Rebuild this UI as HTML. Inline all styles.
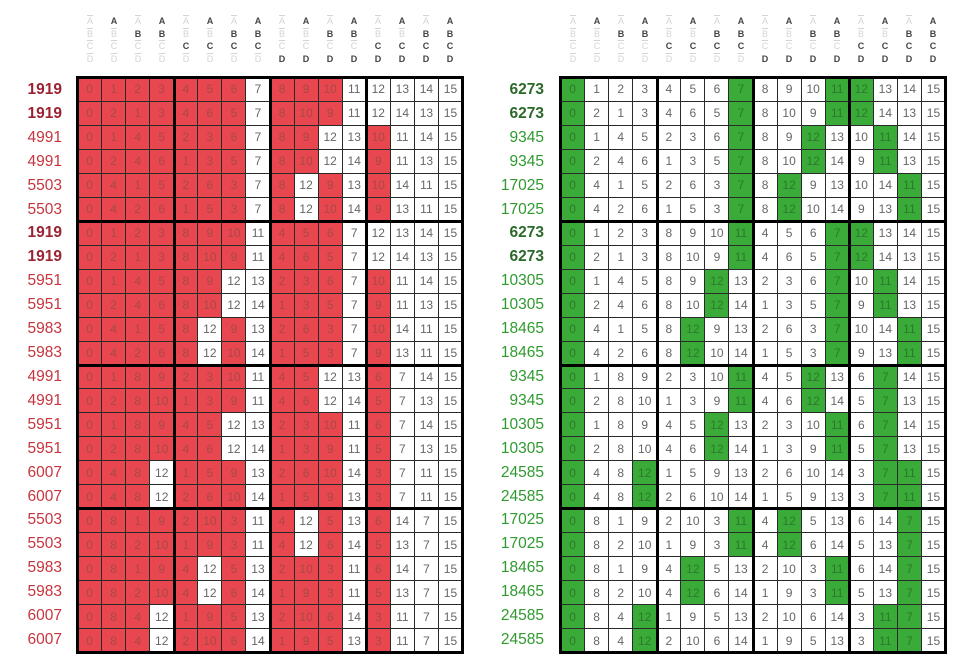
<!DOCTYPE html>
<html><head><meta charset="utf-8"><style>
body{margin:0;width:960px;height:669px;background:#fff;font-family:"Liberation Sans",sans-serif;position:relative;overflow:hidden}
.g{position:absolute;top:78px;width:384px;height:574px;display:grid;grid-template-columns:repeat(16,1fr);grid-template-rows:repeat(24,1fr);gap:1px;background:#2a2a2a}
.g b,.g i{font-weight:normal;font-style:normal;font-size:12px;display:flex;align-items:center;justify-content:center;background:#fff;color:#666}
.L b{background:#e8474f;color:#a84848}
.R b{background:#3aaa38;color:#2a7a2a}
.v,.h{position:absolute;background:#000}
.v{top:0;bottom:0;width:3px}
.h{left:0;right:0;height:3px}
.o{position:absolute;left:-2px;top:-2px;right:-2px;bottom:-2px;border:3px solid #000;pointer-events:none}
.lab{position:absolute;top:78px;width:80px;height:574px;display:grid;grid-template-rows:repeat(24,1fr);text-align:right;font-size:15.5px}
.lab div{display:flex;align-items:center;justify-content:flex-end}
.Ll div{color:#c8343e}.Ll .k{color:#9b2233;font-weight:bold}
.Rl div{color:#2e9a2e}.Rl .k{color:#2a6a2a;font-weight:bold}
.hd{position:absolute;top:15px;width:384px;display:grid;grid-template-columns:repeat(16,1fr);font-size:9px;text-align:center;line-height:12.5px}
.hd div span{display:block}
.hd .p{color:#444;font-weight:bold}
.hd .a{color:#d4d4d4;text-decoration:overline}
</style></head><body>

<div class="hd" style="left:78px">
<div><span class=a>A</span><span class=a>B</span><span class=a>C</span><span class=a>D</span></div>
<div><span class=p>A</span><span class=a>B</span><span class=a>C</span><span class=a>D</span></div>
<div><span class=a>A</span><span class=p>B</span><span class=a>C</span><span class=a>D</span></div>
<div><span class=p>A</span><span class=p>B</span><span class=a>C</span><span class=a>D</span></div>
<div><span class=a>A</span><span class=a>B</span><span class=p>C</span><span class=a>D</span></div>
<div><span class=p>A</span><span class=a>B</span><span class=p>C</span><span class=a>D</span></div>
<div><span class=a>A</span><span class=p>B</span><span class=p>C</span><span class=a>D</span></div>
<div><span class=p>A</span><span class=p>B</span><span class=p>C</span><span class=a>D</span></div>
<div><span class=a>A</span><span class=a>B</span><span class=a>C</span><span class=p>D</span></div>
<div><span class=p>A</span><span class=a>B</span><span class=a>C</span><span class=p>D</span></div>
<div><span class=a>A</span><span class=p>B</span><span class=a>C</span><span class=p>D</span></div>
<div><span class=p>A</span><span class=p>B</span><span class=a>C</span><span class=p>D</span></div>
<div><span class=a>A</span><span class=a>B</span><span class=p>C</span><span class=p>D</span></div>
<div><span class=p>A</span><span class=a>B</span><span class=p>C</span><span class=p>D</span></div>
<div><span class=a>A</span><span class=p>B</span><span class=p>C</span><span class=p>D</span></div>
<div><span class=p>A</span><span class=p>B</span><span class=p>C</span><span class=p>D</span></div>
</div>
<div class="hd" style="left:561px">
<div><span class=a>A</span><span class=a>B</span><span class=a>C</span><span class=a>D</span></div>
<div><span class=p>A</span><span class=a>B</span><span class=a>C</span><span class=a>D</span></div>
<div><span class=a>A</span><span class=p>B</span><span class=a>C</span><span class=a>D</span></div>
<div><span class=p>A</span><span class=p>B</span><span class=a>C</span><span class=a>D</span></div>
<div><span class=a>A</span><span class=a>B</span><span class=p>C</span><span class=a>D</span></div>
<div><span class=p>A</span><span class=a>B</span><span class=p>C</span><span class=a>D</span></div>
<div><span class=a>A</span><span class=p>B</span><span class=p>C</span><span class=a>D</span></div>
<div><span class=p>A</span><span class=p>B</span><span class=p>C</span><span class=a>D</span></div>
<div><span class=a>A</span><span class=a>B</span><span class=a>C</span><span class=p>D</span></div>
<div><span class=p>A</span><span class=a>B</span><span class=a>C</span><span class=p>D</span></div>
<div><span class=a>A</span><span class=p>B</span><span class=a>C</span><span class=p>D</span></div>
<div><span class=p>A</span><span class=p>B</span><span class=a>C</span><span class=p>D</span></div>
<div><span class=a>A</span><span class=a>B</span><span class=p>C</span><span class=p>D</span></div>
<div><span class=p>A</span><span class=a>B</span><span class=p>C</span><span class=p>D</span></div>
<div><span class=a>A</span><span class=p>B</span><span class=p>C</span><span class=p>D</span></div>
<div><span class=p>A</span><span class=p>B</span><span class=p>C</span><span class=p>D</span></div>
</div>

<div class="lab Ll" style="left:-18px">
<div class=k>1919</div><div class=k>1919</div><div>4991</div><div>4991</div><div>5503</div><div>5503</div>
<div class=k>1919</div><div class=k>1919</div><div>5951</div><div>5951</div><div>5983</div><div>5983</div>
<div>4991</div><div>4991</div><div>5951</div><div>5951</div><div>6007</div><div>6007</div>
<div>5503</div><div>5503</div><div>5983</div><div>5983</div><div>6007</div><div>6007</div>
</div>
<div class="lab Rl" style="left:464px">
<div class=k>6273</div><div class=k>6273</div><div>9345</div><div>9345</div><div>17025</div><div>17025</div>
<div class=k>6273</div><div class=k>6273</div><div>10305</div><div>10305</div><div>18465</div><div>18465</div>
<div>9345</div><div>9345</div><div>10305</div><div>10305</div><div>24585</div><div>24585</div>
<div>17025</div><div>17025</div><div>18465</div><div>18465</div><div>24585</div><div>24585</div>
</div>

<div class="g L" style="left:78px">
<b>0</b><b>1</b><b>2</b><b>3</b><b>4</b><b>5</b><b>6</b><i>7</i><b>8</b><b>9</b><b>10</b><i>11</i><i>12</i><i>13</i><i>14</i><i>15</i>
<b>0</b><b>2</b><b>1</b><b>3</b><b>4</b><b>6</b><b>5</b><i>7</i><b>8</b><b>10</b><b>9</b><i>11</i><i>12</i><i>14</i><i>13</i><i>15</i>
<b>0</b><b>1</b><b>4</b><b>5</b><b>2</b><b>3</b><b>6</b><i>7</i><b>8</b><b>9</b><i>12</i><i>13</i><b>10</b><i>11</i><i>14</i><i>15</i>
<b>0</b><b>2</b><b>4</b><b>6</b><b>1</b><b>3</b><b>5</b><i>7</i><b>8</b><b>10</b><i>12</i><i>14</i><b>9</b><i>11</i><i>13</i><i>15</i>
<b>0</b><b>4</b><b>1</b><b>5</b><b>2</b><b>6</b><b>3</b><i>7</i><b>8</b><i>12</i><b>9</b><i>13</i><b>10</b><i>14</i><i>11</i><i>15</i>
<b>0</b><b>4</b><b>2</b><b>6</b><b>1</b><b>5</b><b>3</b><i>7</i><b>8</b><i>12</i><b>10</b><i>14</i><b>9</b><i>13</i><i>11</i><i>15</i>
<b>0</b><b>1</b><b>2</b><b>3</b><b>8</b><b>9</b><b>10</b><i>11</i><b>4</b><b>5</b><b>6</b><i>7</i><i>12</i><i>13</i><i>14</i><i>15</i>
<b>0</b><b>2</b><b>1</b><b>3</b><b>8</b><b>10</b><b>9</b><i>11</i><b>4</b><b>6</b><b>5</b><i>7</i><i>12</i><i>14</i><i>13</i><i>15</i>
<b>0</b><b>1</b><b>4</b><b>5</b><b>8</b><b>9</b><i>12</i><i>13</i><b>2</b><b>3</b><b>6</b><i>7</i><b>10</b><i>11</i><i>14</i><i>15</i>
<b>0</b><b>2</b><b>4</b><b>6</b><b>8</b><b>10</b><i>12</i><i>14</i><b>1</b><b>3</b><b>5</b><i>7</i><b>9</b><i>11</i><i>13</i><i>15</i>
<b>0</b><b>4</b><b>1</b><b>5</b><b>8</b><i>12</i><b>9</b><i>13</i><b>2</b><b>6</b><b>3</b><i>7</i><b>10</b><i>14</i><i>11</i><i>15</i>
<b>0</b><b>4</b><b>2</b><b>6</b><b>8</b><i>12</i><b>10</b><i>14</i><b>1</b><b>5</b><b>3</b><i>7</i><b>9</b><i>13</i><i>11</i><i>15</i>
<b>0</b><b>1</b><b>8</b><b>9</b><b>2</b><b>3</b><b>10</b><i>11</i><b>4</b><b>5</b><i>12</i><i>13</i><b>6</b><i>7</i><i>14</i><i>15</i>
<b>0</b><b>2</b><b>8</b><b>10</b><b>1</b><b>3</b><b>9</b><i>11</i><b>4</b><b>6</b><i>12</i><i>14</i><b>5</b><i>7</i><i>13</i><i>15</i>
<b>0</b><b>1</b><b>8</b><b>9</b><b>4</b><b>5</b><i>12</i><i>13</i><b>2</b><b>3</b><b>10</b><i>11</i><b>6</b><i>7</i><i>14</i><i>15</i>
<b>0</b><b>2</b><b>8</b><b>10</b><b>4</b><b>6</b><i>12</i><i>14</i><b>1</b><b>3</b><b>9</b><i>11</i><b>5</b><i>7</i><i>13</i><i>15</i>
<b>0</b><b>4</b><b>8</b><i>12</i><b>1</b><b>5</b><b>9</b><i>13</i><b>2</b><b>6</b><b>10</b><i>14</i><b>3</b><i>7</i><i>11</i><i>15</i>
<b>0</b><b>4</b><b>8</b><i>12</i><b>2</b><b>6</b><b>10</b><i>14</i><b>1</b><b>5</b><b>9</b><i>13</i><b>3</b><i>7</i><i>11</i><i>15</i>
<b>0</b><b>8</b><b>1</b><b>9</b><b>2</b><b>10</b><b>3</b><i>11</i><b>4</b><i>12</i><b>5</b><i>13</i><b>6</b><i>14</i><i>7</i><i>15</i>
<b>0</b><b>8</b><b>2</b><b>10</b><b>1</b><b>9</b><b>3</b><i>11</i><b>4</b><i>12</i><b>6</b><i>14</i><b>5</b><i>13</i><i>7</i><i>15</i>
<b>0</b><b>8</b><b>1</b><b>9</b><b>4</b><i>12</i><b>5</b><i>13</i><b>2</b><b>10</b><b>3</b><i>11</i><b>6</b><i>14</i><i>7</i><i>15</i>
<b>0</b><b>8</b><b>2</b><b>10</b><b>4</b><i>12</i><b>6</b><i>14</i><b>1</b><b>9</b><b>3</b><i>11</i><b>5</b><i>13</i><i>7</i><i>15</i>
<b>0</b><b>8</b><b>4</b><i>12</i><b>1</b><b>9</b><b>5</b><i>13</i><b>2</b><b>10</b><b>6</b><i>14</i><b>3</b><i>11</i><i>7</i><i>15</i>
<b>0</b><b>8</b><b>4</b><i>12</i><b>2</b><b>10</b><b>6</b><i>14</i><b>1</b><b>9</b><b>5</b><i>13</i><b>3</b><i>11</i><i>7</i><i>15</i>
<div class=v style="left:94.5px"></div><div class=v style="left:190.5px"></div><div class=v style="left:286.5px"></div>
<div class=h style="top:142px"></div><div class=h style="top:285.5px"></div><div class=h style="top:429px"></div>
<div class=o></div>
</div>

<div class="g R" style="left:561px">
<b>0</b><i>1</i><i>2</i><i>3</i><i>4</i><i>5</i><i>6</i><b>7</b><i>8</i><i>9</i><i>10</i><b>11</b><b>12</b><i>13</i><i>14</i><i>15</i>
<b>0</b><i>2</i><i>1</i><i>3</i><i>4</i><i>6</i><i>5</i><b>7</b><i>8</i><i>10</i><i>9</i><b>11</b><b>12</b><i>14</i><i>13</i><i>15</i>
<b>0</b><i>1</i><i>4</i><i>5</i><i>2</i><i>3</i><i>6</i><b>7</b><i>8</i><i>9</i><b>12</b><i>13</i><i>10</i><b>11</b><i>14</i><i>15</i>
<b>0</b><i>2</i><i>4</i><i>6</i><i>1</i><i>3</i><i>5</i><b>7</b><i>8</i><i>10</i><b>12</b><i>14</i><i>9</i><b>11</b><i>13</i><i>15</i>
<b>0</b><i>4</i><i>1</i><i>5</i><i>2</i><i>6</i><i>3</i><b>7</b><i>8</i><b>12</b><i>9</i><i>13</i><i>10</i><i>14</i><b>11</b><i>15</i>
<b>0</b><i>4</i><i>2</i><i>6</i><i>1</i><i>5</i><i>3</i><b>7</b><i>8</i><b>12</b><i>10</i><i>14</i><i>9</i><i>13</i><b>11</b><i>15</i>
<b>0</b><i>1</i><i>2</i><i>3</i><i>8</i><i>9</i><i>10</i><b>11</b><i>4</i><i>5</i><i>6</i><b>7</b><b>12</b><i>13</i><i>14</i><i>15</i>
<b>0</b><i>2</i><i>1</i><i>3</i><i>8</i><i>10</i><i>9</i><b>11</b><i>4</i><i>6</i><i>5</i><b>7</b><b>12</b><i>14</i><i>13</i><i>15</i>
<b>0</b><i>1</i><i>4</i><i>5</i><i>8</i><i>9</i><b>12</b><i>13</i><i>2</i><i>3</i><i>6</i><b>7</b><i>10</i><b>11</b><i>14</i><i>15</i>
<b>0</b><i>2</i><i>4</i><i>6</i><i>8</i><i>10</i><b>12</b><i>14</i><i>1</i><i>3</i><i>5</i><b>7</b><i>9</i><b>11</b><i>13</i><i>15</i>
<b>0</b><i>4</i><i>1</i><i>5</i><i>8</i><b>12</b><i>9</i><i>13</i><i>2</i><i>6</i><i>3</i><b>7</b><i>10</i><i>14</i><b>11</b><i>15</i>
<b>0</b><i>4</i><i>2</i><i>6</i><i>8</i><b>12</b><i>10</i><i>14</i><i>1</i><i>5</i><i>3</i><b>7</b><i>9</i><i>13</i><b>11</b><i>15</i>
<b>0</b><i>1</i><i>8</i><i>9</i><i>2</i><i>3</i><i>10</i><b>11</b><i>4</i><i>5</i><b>12</b><i>13</i><i>6</i><b>7</b><i>14</i><i>15</i>
<b>0</b><i>2</i><i>8</i><i>10</i><i>1</i><i>3</i><i>9</i><b>11</b><i>4</i><i>6</i><b>12</b><i>14</i><i>5</i><b>7</b><i>13</i><i>15</i>
<b>0</b><i>1</i><i>8</i><i>9</i><i>4</i><i>5</i><b>12</b><i>13</i><i>2</i><i>3</i><i>10</i><b>11</b><i>6</i><b>7</b><i>14</i><i>15</i>
<b>0</b><i>2</i><i>8</i><i>10</i><i>4</i><i>6</i><b>12</b><i>14</i><i>1</i><i>3</i><i>9</i><b>11</b><i>5</i><b>7</b><i>13</i><i>15</i>
<b>0</b><i>4</i><i>8</i><b>12</b><i>1</i><i>5</i><i>9</i><i>13</i><i>2</i><i>6</i><i>10</i><i>14</i><i>3</i><b>7</b><b>11</b><i>15</i>
<b>0</b><i>4</i><i>8</i><b>12</b><i>2</i><i>6</i><i>10</i><i>14</i><i>1</i><i>5</i><i>9</i><i>13</i><i>3</i><b>7</b><b>11</b><i>15</i>
<b>0</b><i>8</i><i>1</i><i>9</i><i>2</i><i>10</i><i>3</i><b>11</b><i>4</i><b>12</b><i>5</i><i>13</i><i>6</i><i>14</i><b>7</b><i>15</i>
<b>0</b><i>8</i><i>2</i><i>10</i><i>1</i><i>9</i><i>3</i><b>11</b><i>4</i><b>12</b><i>6</i><i>14</i><i>5</i><i>13</i><b>7</b><i>15</i>
<b>0</b><i>8</i><i>1</i><i>9</i><i>4</i><b>12</b><i>5</i><i>13</i><i>2</i><i>10</i><i>3</i><b>11</b><i>6</i><i>14</i><b>7</b><i>15</i>
<b>0</b><i>8</i><i>2</i><i>10</i><i>4</i><b>12</b><i>6</i><i>14</i><i>1</i><i>9</i><i>3</i><b>11</b><i>5</i><i>13</i><b>7</b><i>15</i>
<b>0</b><i>8</i><i>4</i><b>12</b><i>1</i><i>9</i><i>5</i><i>13</i><i>2</i><i>10</i><i>6</i><i>14</i><i>3</i><b>11</b><b>7</b><i>15</i>
<b>0</b><i>8</i><i>4</i><b>12</b><i>2</i><i>10</i><i>6</i><i>14</i><i>1</i><i>9</i><i>5</i><i>13</i><i>3</i><b>11</b><b>7</b><i>15</i>
<div class=v style="left:94.5px"></div><div class=v style="left:190.5px"></div><div class=v style="left:286.5px"></div>
<div class=h style="top:142px"></div><div class=h style="top:285.5px"></div><div class=h style="top:429px"></div>
<div class=o></div>
</div>
</body></html>
